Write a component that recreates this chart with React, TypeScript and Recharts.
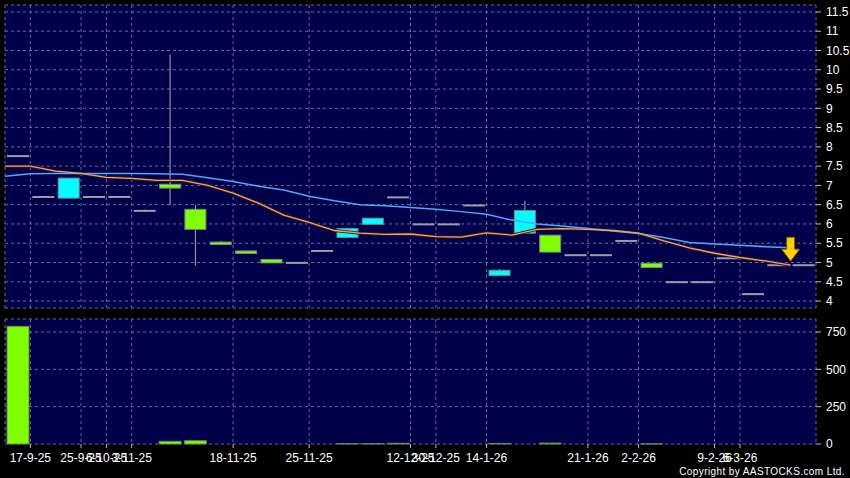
import React from 'react';
import { ComposedChart, Bar, Line, XAxis, YAxis, CartesianGrid } from 'recharts';

// daily candles, oldest first
const opens = [7.76, 6.7, 6.67, 6.7, 6.7, 6.34, 7.03, 6.38, 5.53, 5.3, 5.08, 4.99, 5.3, 5.65, 5.99, 6.69,
  5.99, 5.99, 6.48, 4.66, 5.76, 5.71, 5.19, 5.19, 5.56, 4.98, 4.49, 4.49, 5.11, 4.18, 4.93, 4.93];
const highs = [7.76, 6.7, 7.19, 6.7, 6.7, 6.37, 10.4, 6.49, 5.56, 5.3, 5.08, 4.99, 5.3, 5.88, 6.15, 6.69,
  5.99, 5.99, 6.48, 4.83, 6.6, 5.71, 5.19, 5.19, 5.56, 4.98, 4.49, 4.49, 5.11, 4.18, 4.93, 4.93];
const lows = [7.76, 6.7, 6.67, 6.7, 6.7, 6.34, 6.49, 4.92, 5.48, 5.24, 4.99, 4.99, 5.3, 5.65, 5.99, 6.69,
  5.99, 5.99, 6.48, 4.66, 5.76, 5.27, 5.19, 5.19, 5.56, 4.87, 4.49, 4.49, 5.11, 4.18, 4.93, 4.93];
const closes = [7.76, 6.7, 7.19, 6.7, 6.7, 6.34, 6.93, 5.86, 5.48, 5.24, 4.99, 4.99, 5.3, 5.88, 6.15, 6.69,
  5.99, 5.99, 6.48, 4.8, 6.35, 5.27, 5.19, 5.19, 5.56, 4.87, 4.49, 4.49, 5.11, 4.18, 4.93, 4.93];
const ma10 = [7.5, 7.5, 7.37, 7.31, 7.21, 7.18, 7.13, 7.13, 7.0, 6.8, 6.54, 6.23, 6.04, 5.83, 5.76, 5.73,
  5.74, 5.67, 5.66, 5.77, 5.71, 5.86, 5.88, 5.86, 5.83, 5.76, 5.56, 5.38, 5.24, 5.13, 5.04, 4.93];
const ma20 = [7.24, 7.3, 7.31, 7.31, 7.31, 7.31, 7.3, 7.29, 7.2, 7.1, 6.98, 6.88, 6.72, 6.6, 6.5, 6.47,
  6.43, 6.38, 6.32, 6.25, 6.1, 6.0, 5.95, 5.88, 5.82, 5.75, 5.65, 5.52, 5.48, 5.45, 5.41, 5.38];
const volumes = [788, 0, 0, 0, 0, 0, 18, 22, 0, 0, 0, 0, 0, 2, 2, 5, 0, 0, 0, 4, 0, 6, 0, 0, 0, 1, 0, 0, 0, 0, 0, 0];

const tickSlots = [1, 3, 4, 5, 9, 12, 16, 17, 19, 23, 25, 28, 29];
const tickLabels = ['17-9-25', '25-9-25', '6-10-25', '3-11-25', '18-11-25', '25-11-25', '12-12-25', '30-12-25',
  '14-1-26', '21-1-26', '2-2-26', '9-2-26', '6-3-26'];
const priceTicks = [4, 4.5, 5, 5.5, 6, 6.5, 7, 7.5, 8, 8.5, 9, 9.5, 10, 10.5, 11, 11.5];
const volumeTicks = [0, 250, 500, 750];

const data = opens.map((o, i) => ({
  i,
  open: o,
  high: highs[i],
  low: lows[i],
  close: closes[i],
  ma10: ma10[i],
  ma20: ma20[i],
  vol: volumes[i],
}));

const FONT = '"Liberation Sans", Arial, sans-serif';
const BG = '#00004a';
const GRID = '#6a6aa0';
const tickStyle = { fill: '#ffffff', fontSize: 12, fontFamily: FONT };
const labelOf = (v: number) => tickLabels[tickSlots.indexOf(v)] ?? '';

function Candle(props: any) {
  const { x, y, width, height, payload } = props;
  const { open, close, high, low } = payload;
  const top = Math.min(y, y + height);
  const h = Math.abs(height);
  const span = high - low;
  const toY = (v: number) => (span === 0 ? top : top + ((high - v) / span) * h);
  const cx = x + width / 2;
  const wick = span > 0 ? (
    <line x1={cx} x2={cx} y1={top} y2={top + h} stroke="#a8a8b8" strokeWidth={1} />
  ) : null;
  if (open === close) {
    return (
      <g>
        {wick}
        <rect x={x} y={toY(open) - 1} width={width} height={2} fill="#9c9cb0" />
      </g>
    );
  }
  const bTop = toY(Math.max(open, close));
  const bBot = toY(Math.min(open, close));
  const up = close > open;
  return (
    <g>
      {wick}
      <rect
        x={x + 0.5}
        y={bTop}
        width={width - 1}
        height={Math.max(bBot - bTop, 2.5)}
        fill={up ? '#00ffff' : '#80ff00'}
        stroke="#6e8a8a"
        strokeWidth={1}
      />
    </g>
  );
}

const arrowDot = (p: any) => {
  if (p.index !== data.length - 1) return <g key={`d${p.index}`} />;
  const { cx, cy } = p;
  return (
    <path
      key="arrow"
      d={`M${cx - 4},${cy - 28} h8 v12 h5 l-9,12 l-9,-12 h5 z`}
      fill="#ffd200"
      stroke="#7a5a00"
      strokeWidth={1}
    />
  );
};

export default function App() {
  return (
    <div style={{ position: 'absolute', left: 0, top: 0, width: 850, height: 478, background: '#000', overflow: 'hidden' }}>
      <div style={{ position: 'absolute', left: 0, top: 0 }}>
        <ComposedChart width={850} height={312} data={data} margin={{ top: 5, right: 0, bottom: 4, left: 5 }}>
          <CartesianGrid xAxisId="m" yAxisId="p" fill={BG} stroke={GRID} strokeDasharray="3 3" />
          <XAxis xAxisId="m" dataKey="i" type="number" domain={[0, 32]} ticks={tickSlots} height={0} hide />
          <XAxis xAxisId="c" dataKey="i" type="category" height={0} hide />
          <YAxis
            yAxisId="p"
            orientation="right"
            domain={[3.82, 11.68]}
            ticks={priceTicks}
            interval={0}
            width={34}
            axisLine={false}
            tickLine={{ stroke: '#bbbbbb' }}
            tickSize={5}
            tickMargin={5}
            tick={tickStyle}
          />
          <Bar
            xAxisId="c"
            yAxisId="p"
            dataKey={(d: any) => [d.low, d.high]}
            barSize={22}
            shape={<Candle />}
            isAnimationActive={false}
          />
          <Line
            xAxisId="m"
            yAxisId="p"
            dataKey="ma10"
            stroke="#3a1a10"
            strokeWidth={3}
            dot={false}
            isAnimationActive={false}
          />
          <Line
            xAxisId="m"
            yAxisId="p"
            dataKey="ma20"
            stroke="#4aa8ff"
            strokeWidth={1.5}
            dot={false}
            isAnimationActive={false}
          />
          <Line
            xAxisId="m"
            yAxisId="p"
            dataKey="ma10"
            stroke="#f0a070"
            strokeWidth={1.3}
            dot={arrowDot}
            isAnimationActive={false}
          />
        </ComposedChart>
      </div>
      <div style={{ position: 'absolute', left: 0, top: 312 }}>
        <ComposedChart width={850} height={166} data={data} margin={{ top: 7, right: 0, bottom: 14, left: 5 }}>
          <CartesianGrid xAxisId="m" yAxisId="v" fill={BG} stroke={GRID} strokeDasharray="3 3" />
          <XAxis
            xAxisId="m"
            dataKey="i"
            type="number"
            domain={[0, 32]}
            ticks={tickSlots}
            interval={0}
            tickFormatter={labelOf}
            height={20}
            axisLine={false}
            tickLine={{ stroke: '#bbbbbb' }}
            tickSize={4}
            tickMargin={5}
            tick={tickStyle}
          />
          <XAxis xAxisId="c" dataKey="i" type="category" height={0} hide />
          <YAxis
            yAxisId="v"
            orientation="right"
            domain={[0, 837]}
            ticks={volumeTicks}
            interval={0}
            width={34}
            axisLine={false}
            tickLine={{ stroke: '#bbbbbb' }}
            tickSize={5}
            tickMargin={5}
            tick={tickStyle}
          />
          <Bar
            xAxisId="c"
            yAxisId="v"
            dataKey="vol"
            barSize={22}
            fill="#80ff00"
            stroke="#5e8a4a"
            isAnimationActive={false}
          />
        </ComposedChart>
      </div>
      <div
        style={{
          position: 'absolute',
          right: 5,
          top: 466,
          fontFamily: FONT,
          fontSize: 10,
          lineHeight: '12px',
          color: '#fff',
          letterSpacing: 0.4,
        }}
      >
        Copyright by AASTOCKS.com Ltd.
      </div>
    </div>
  );
}
